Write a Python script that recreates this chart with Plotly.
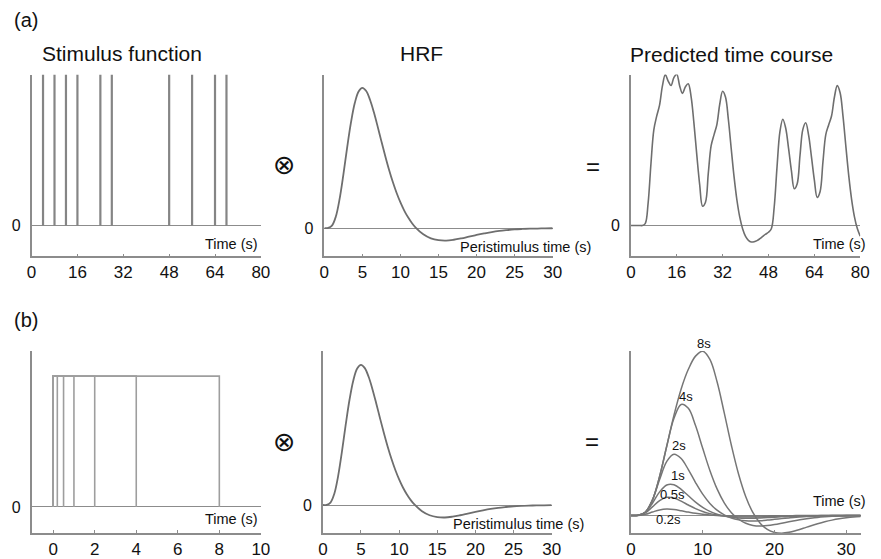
import plotly.graph_objects as go

# ---------------- data ----------------
STIM_ONSETS = [4, 8, 12, 16, 24, 28, 48, 56, 64, 68]
STIM_HEIGHT = 1.0

HRF_T = [0, 0.5, 1, 1.5, 2, 2.5, 3, 3.5, 4, 4.5, 5, 5.5, 6, 6.5, 7, 7.5, 8, 8.5,
         9, 9.5, 10, 10.5, 11, 11.5, 12,
         13, 14, 15, 16, 17, 18, 19, 20, 21, 22, 23, 24, 25, 26, 27, 28, 29, 30]
HRF_V = [0, 0.001, 0.0175, 0.0805, 0.206, 0.381, 0.575, 0.753, 0.891, 0.974,
         1.0, 0.977, 0.915, 0.827, 0.725, 0.618, 0.514, 0.416, 0.328, 0.250,
         0.183, 0.125, 0.077, 0.037, 0.004,
         -0.044, -0.073, -0.086, -0.089, -0.083, -0.073, -0.061, -0.049, -0.038,
         -0.028, -0.020, -0.014, -0.009, -0.006, -0.004, -0.003, -0.002, -0.001]

PRED_T = list(range(0, 81))
PRED_V = [0, 0, 0, 0, 0, 0.0175, 0.206, 0.575, 0.891, 1.018,
          1.120, 1.300, 1.405, 1.345, 1.303, 1.377, 1.409, 1.301, 1.230, 1.291,
          1.320, 1.201, 0.951, 0.655, 0.380, 0.180, 0.214, 0.485, 0.743, 0.844,
          0.940, 1.129, 1.250, 1.196, 0.989, 0.717, 0.452, 0.235, 0.075, -0.033,
          -0.102, -0.138, -0.153, -0.151, -0.141, -0.123, -0.102, -0.081, -0.063, -0.030,
          0.172, 0.551, 0.874, 0.989, 0.908, 0.721, 0.511, 0.343, 0.387, 0.652,
          0.895, 0.956, 0.842, 0.639, 0.425, 0.262, 0.315, 0.591, 0.846, 0.936,
          1.019, 1.194, 1.302, 1.236, 1.018, 0.737, 0.466, 0.244, 0.081, -0.029,
          -0.099]

BOX_DURS = [0.2, 0.5, 1, 2, 4, 8]
BOX_LABELS = ["0.2s", "0.5s", "1s", "2s", "4s", "8s"]

RESP_T = list(range(0, 33))
RESP_02 = [0, 0.0025, 0.036, 0.108, 0.175, 0.200, 0.186, 0.149, 0.107, 0.069,
           0.039, 0.018, 0.002, -0.008, -0.014, -0.017, -0.018, -0.017, -0.015, -0.0125,
           -0.010, -0.008, -0.006, -0.004, -0.003, -0.002, -0.0013, -0.0009, -0.0006, -0.0004,
           -0.0002, -0.0001, -0.0001]
RESP_05 = [0, 0.005, 0.080, 0.270, 0.470, 0.570, 0.550, 0.450, 0.330, 0.215,
           0.125, 0.058, 0.012, -0.013, -0.034, -0.045, -0.050, -0.049, -0.044, -0.038,
           -0.031, -0.025, -0.019, -0.014, -0.010, -0.007, -0.005, -0.003, -0.002, -0.001,
           -0.001, -0.001, 0.0]
RESP_1 = [0, 0.005, 0.096, 0.386, 0.743, 0.960, 0.967, 0.823, 0.619, 0.418,
          0.253, 0.128, 0.039, -0.020, -0.059, -0.080, -0.088, -0.086, -0.078, -0.067,
          -0.055, -0.044, -0.033, -0.024, -0.017, -0.012, -0.008, -0.006, -0.004, -0.002,
          -0.002, -0.001, -0.001]
RESP_2 = [0, 0.005, 0.101, 0.482, 1.129, 1.703, 1.927, 1.791, 1.442, 1.037,
          0.671, 0.380, 0.166, 0.019, -0.079, -0.138, -0.167, -0.174, -0.164, -0.145,
          -0.122, -0.099, -0.077, -0.057, -0.041, -0.029, -0.019, -0.013, -0.009, -0.006,
          -0.004, -0.003, -0.002]
RESP_4 = [0, 0.005, 0.101, 0.487, 1.229, 2.184, 3.055, 3.493, 3.369, 2.828,
          2.113, 1.417, 0.837, 0.399, 0.088, -0.119, -0.246, -0.312, -0.331, -0.319,
          -0.286, -0.244, -0.199, -0.156, -0.118, -0.086, -0.060, -0.042, -0.028, -0.018,
          -0.013, -0.008, -0.005]
RESP_8 = [0, 0.005, 0.101, 0.487, 1.229, 2.189, 3.156, 3.980, 4.598, 5.012,
          5.168, 4.910, 4.206, 3.227, 2.201, 1.298, 0.592, 0.087, -0.243, -0.438,
          -0.532, -0.555, -0.530, -0.474, -0.404, -0.329, -0.259, -0.197, -0.146, -0.104,
          -0.073, -0.049, -0.033]
RESP_SERIES = [RESP_02, RESP_05, RESP_1, RESP_2, RESP_4, RESP_8]

TICKS_A = [0, 16, 32, 48, 64, 80]
TICKS_HRF = [0, 5, 10, 15, 20, 25, 30]
TICKS_BOX = [0, 2, 4, 6, 8, 10]
TICKS_RESP = [0, 10, 20, 30]

# ---------------- layout helpers ----------------
W, H = 881, 559
FONT = "Liberation Sans, Arial, Helvetica, sans-serif"
AXC = "#8c8c8c"
CURVE = "#6e6e6e"


def pxx(x):
    return x / W


def pyy(y):
    return 1 - y / H


fig = go.Figure()

# (a) stimulus spikes
sx, sy = [], []
for s in STIM_ONSETS:
    sx += [s, s, None]
    sy += [0, STIM_HEIGHT, None]
fig.add_trace(go.Scatter(x=sx, y=sy, mode="lines", xaxis="x", yaxis="y",
                         line=dict(color="#858585", width=2.2)))
# (a) HRF
fig.add_trace(go.Scatter(x=HRF_T, y=HRF_V, mode="lines", xaxis="x2", yaxis="y2",
                         line=dict(color=CURVE, width=1.8, shape="spline")))
# (a) predicted
fig.add_trace(go.Scatter(x=PRED_T, y=PRED_V, mode="lines", xaxis="x3", yaxis="y3",
                         line=dict(color=CURVE, width=1.6, shape="spline")))
# (b) boxcars
for d in BOX_DURS:
    fig.add_trace(go.Scatter(x=[0, 0, d, d], y=[0, 1, 1, 0], mode="lines",
                             xaxis="x4", yaxis="y4",
                             line=dict(color="#9e9e9e", width=1.6)))
# (b) HRF
fig.add_trace(go.Scatter(x=HRF_T, y=HRF_V, mode="lines", xaxis="x5", yaxis="y5",
                         line=dict(color=CURVE, width=1.8, shape="spline")))
# (b) responses
for ser in RESP_SERIES:
    fig.add_trace(go.Scatter(x=RESP_T, y=ser, mode="lines", xaxis="x6", yaxis="y6",
                             line=dict(color="#767676", width=1.5, shape="spline")))

panels = [
    # (x0, x1, ytop, ybot, xrange, yrange, ticks, show y zero label)
    (27, 260, 75, 257.7, [0, 80], [-0.202, 1.0], TICKS_A, True),
    (324.5, 556.5, 75, 257.7, [0, 30], [-0.201, 1.094], TICKS_HRF, True),
    (636, 869, 75, 257.7, [0, 80], [-0.287, 1.405], TICKS_A, True),
    (27, 260, 353, 535.5, [-1.04, 10], [-0.196, 1.191], TICKS_BOX, True),
    (323, 555.5, 352.5, 535.5, [0, 30], [-0.197, 1.102], TICKS_HRF, True),
    (636, 869.5, 353, 536, [0, 32], [-0.555, 5.17], TICKS_RESP, False),
]

layout = dict(width=W, height=H, margin=dict(l=0, r=0, t=0, b=0),
              paper_bgcolor="white", plot_bgcolor="white", showlegend=False,
              font=dict(family=FONT, color="#111111"))
for i, (x0, x1, yt, yb, xr, yr, tk, zl) in enumerate(panels, start=1):
    sfx = "" if i == 1 else str(i)
    layout["xaxis" + sfx] = dict(
        domain=[pxx(x0), pxx(x1)], anchor="y" + sfx, range=xr,
        showline=True, linecolor=AXC, linewidth=1.5, mirror=False,
        ticks="inside", ticklen=3, tickwidth=1, tickcolor=AXC,
        tickvals=tk, ticktext=[str(t) for t in tk],
        tickfont=dict(size=17, family=FONT, color="#111111"),
        showgrid=False, zeroline=False, fixedrange=True)
    layout["yaxis" + sfx] = dict(
        domain=[pyy(yb), pyy(yt)], anchor="x" + sfx, range=yr,
        showline=True, linecolor=AXC, linewidth=1.5,
        ticks="", tickvals=[0] if zl else [], ticktext=["0"] if zl else [],
        ticklabelstandoff=6,
        tickfont=dict(size=16, family=FONT, color="#111111"),
        showgrid=False, zeroline=True, zerolinecolor=AXC, zerolinewidth=1.3,
        fixedrange=True)

ann = []


def txt(x, y, s, size, xanchor="center", yanchor="middle", family=FONT):
    ann.append(dict(x=pxx(x), y=pyy(y), xref="paper", yref="paper", text=s,
                    showarrow=False, xanchor=xanchor, yanchor=yanchor,
                    font=dict(size=size, family=family, color="#111111")))


txt(21, 20, "(a)", 20)
txt(21, 322, "(b)", 20)
txt(118.5, 54, "Stimulus function", 21)
txt(423.3, 54, "HRF", 21)
txt(738, 55, "Predicted time course", 21)
txt(284, 165, "⊗", 27, family="DejaVu Sans")
txt(284, 444, "⊗", 27, family="DejaVu Sans")
txt(598, 167, "=", 24)
txt(596, 444, "=", 24)
txt(259, 245, "Time (s)", 14.5, xanchor="right")
txt(598, 248.3, "Peristimulus time (s)", 14.5, xanchor="right")
txt(877, 245, "Time (s)", 14.5, xanchor="right")
txt(259, 521.7, "Time (s)", 14.5, xanchor="right")
txt(590, 526.7, "Peristimulus time (s)", 14.5, xanchor="right")
txt(877, 504, "Time (s)", 14.5, xanchor="right")

# duration labels at response peaks
shifts = {"0.2s": (2, -10), "0.5s": (6, 3), "1s": (4, 9), "2s": (5, 9),
          "4s": (5, 8), "8s": (1, 8)}
for lab, ser in zip(BOX_LABELS, RESP_SERIES):
    k = max(range(len(ser)), key=lambda j: ser[j])
    dx, dy = shifts[lab]
    ann.append(dict(x=RESP_T[k], y=ser[k], xref="x6", yref="y6", text=lab,
                    showarrow=False, xanchor="center", yanchor="middle",
                    xshift=dx, yshift=dy,
                    font=dict(size=13, family=FONT, color="#111111")))

layout["annotations"] = ann
fig.update_layout(**layout)
fig.write_html("out.html")
